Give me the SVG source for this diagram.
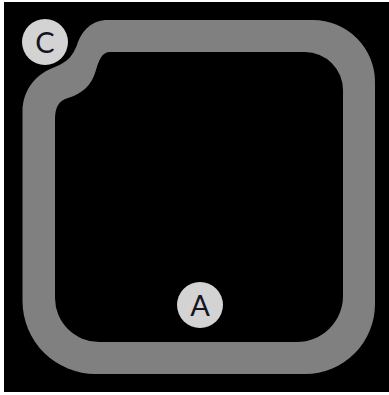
<svg xmlns="http://www.w3.org/2000/svg" width="389" height="395" viewBox="0 0 389 395">
<style>
.track{fill:#808080;fill-rule:evenodd}
.node circle{fill:#d3d3d3}
.node text{font-family:Lato,"Open Sans","Liberation Sans",sans-serif;font-size:29px;fill:#14141e;text-anchor:middle}
</style>
<rect x="0" y="0" width="389" height="395" fill="#ffffff"/>
<rect x="4" y="2" width="385" height="390" fill="#000000"/>
<g id="connectors">
<path class="track" d="M108,20 L313,20 A62,62 0 0 1 375,82 L375,304 A70,70 0 0 1 305,374 L96,374 A73,73 0 0 1 22.5,301 L22.5,112 C22.5,88 38,73 55,67 C68,62 73,55 77,45 C82,30 92,20 108,20 Z M110,52 C102,52 99,60 96,70 C92,85 82,94 68,98 C58,101 55,108 55,120 L55,298 A44,44 0 0 0 99,342 L297,342 A46,46 0 0 0 343,296 L343,90 A38,38 0 0 0 305,52 Z"/>
</g>
<g id="node-C" class="node">
<circle cx="45" cy="42" r="23"/>
<text x="45" y="53">C</text>
</g>
<g id="node-A" class="node">
<circle cx="200" cy="305" r="23"/>
<text x="200" y="316">A</text>
</g>
</svg>
